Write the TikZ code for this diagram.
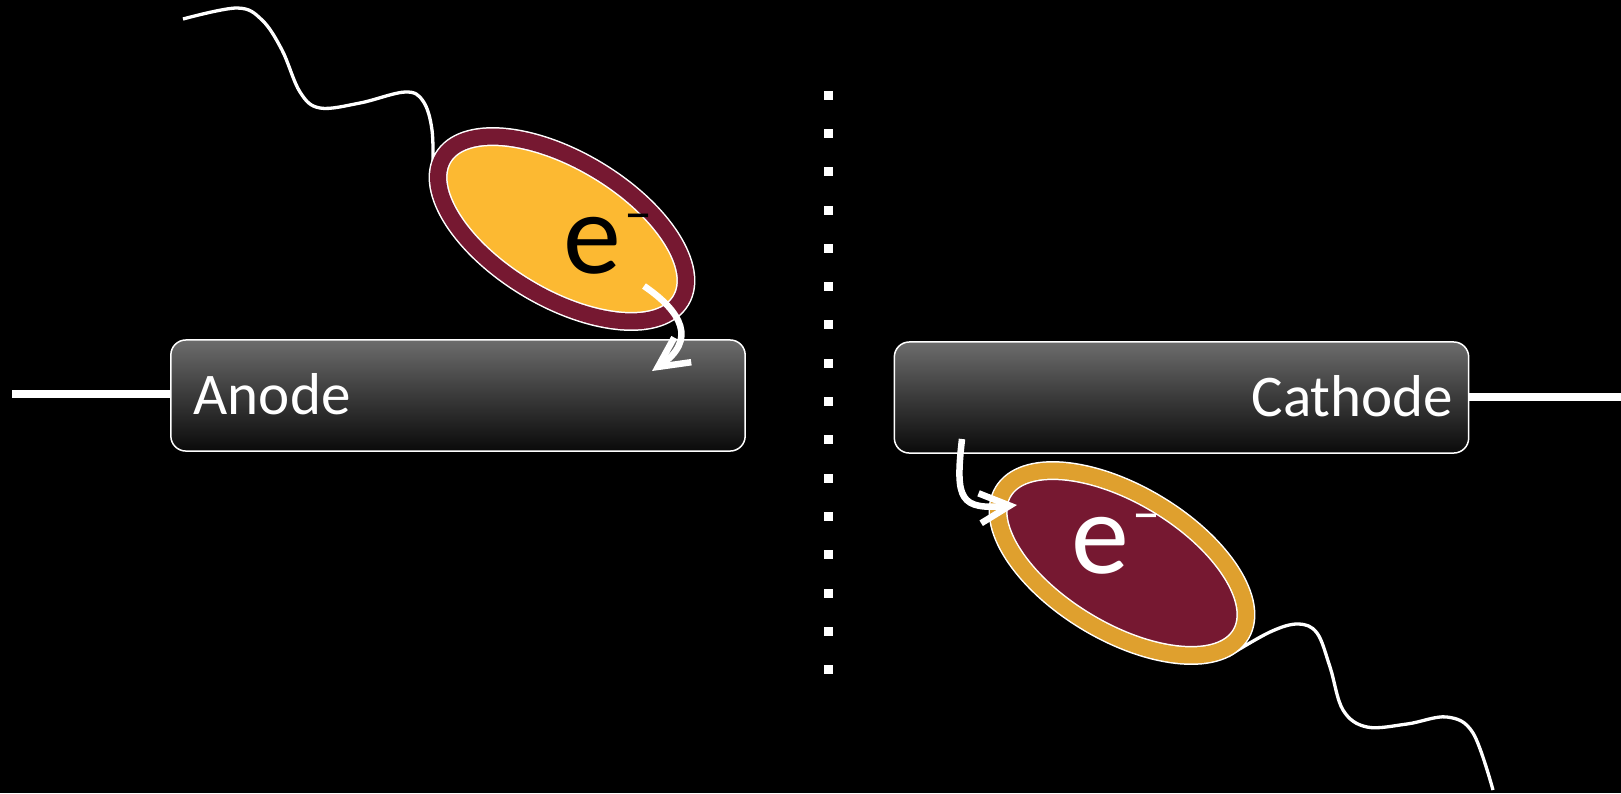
\documentclass[tikz,border=0pt]{standalone}
\usepackage{fontspec}
\setmainfont{Carlito}
\usepackage{tikz}
\usetikzlibrary{shapes.geometric,arrows.meta,positioning}

\definecolor{eYellow}{RGB}{252,185,50}
\definecolor{eMaroon}{RGB}{118,24,49}
\definecolor{eGold}{RGB}{223,160,46}
\definecolor{boxTop}{RGB}{108,108,108}
\definecolor{boxMid}{RGB}{58,58,58}
\definecolor{boxBot}{RGB}{10,10,10}

\tikzset{
	electrode/.style={draw=white, line width=0.015cm, rounded corners=0.15cm,
		top color=boxTop, bottom color=boxBot, middle color=boxMid,
		minimum width=5.74cm, minimum height=1.11cm, inner sep=0pt},
	particle/.style={ellipse, minimum width=2.77cm, minimum height=1.37cm, inner sep=0pt,
		rotate=-31, draw=white, line width=0.015cm, double distance=0.16cm},
	lead/.style={white, line width=0.08cm},
	tail/.style={white, line width=0.033cm},
	flow/.style={white, line width=0.065cm, -{Straight Barb[length=0.3cm,width=0.3cm]}},
	charge/.style={anchor=base west, inner sep=0pt, font=\fontsize{33}{33}\selectfont},
	tag/.style={white, inner sep=0pt, font=\fontsize{16.8}{16.8}\selectfont},
}
\newcommand{\minus}{\kern0.03cm\raisebox{0.41cm}{\fontsize{16}{16}\selectfont –}}

\begin{document}
\begin{tikzpicture}[x=0.01cm, y=-0.01cm]
	\useasboundingbox (0,0) rectangle (1621,793);
	\fill[black] (0,0) rectangle (1621,793);

	% electrodes and their leads
	\node[electrode] (anode) at (458,395.5) {};
	\node[electrode] (cathode) at (1181.5,397.5) {};
	\coordinate (leadA) at (12,394);
	\coordinate (leadC) at (1621,397);
	\draw[lead] (leadA) -- (leadA -| anode.west);
	\draw[lead] (leadC -| cathode.east) -- (leadC);
	\node[tag, anchor=base west] (anodeTxt) at (193,414) {Anode};
	\node[tag, anchor=base east] (cathodeTxt) at (1454,416) {Cathode};

	% dotted separator
	\foreach \k in {0,...,15}
		\fill[white] (823.5,90.5+38.33*\k) rectangle ++(9,9);

	% tails
	\draw[tail] plot[smooth, tension=0.6] coordinates {(183,19) (237,8) (262,20) (282,50) (300,92) (320,108) (360,103) (405,92) (423,101) (432,130) (433,175)};
	\draw[tail] plot[smooth, tension=0.6] coordinates {(1228,656) (1270,632) (1298,624) (1317,633) (1330,667) (1343,710) (1367,727) (1407,724) (1447,717) (1473,733) (1493,790)};

	% electrons
	\node[particle, fill=eYellow, double=eMaroon] (eA) at (562,229) {};
	\node[particle, fill=eMaroon, double=eGold] (eC) at (1122,563) {};
	\node[charge] (chargeA) at (563,273) {e\minus};
	\node[charge, white] (chargeC) at (1071,573) {e\minus};

	% transfer arrows
	\coordinate (dropA) at (644,286);
	\coordinate (hitA) at (652,371);
	\draw[flow] (dropA) .. controls (682,312) and (697,340) .. (hitA);
	\coordinate (dropC) at (962,439);
	\coordinate (hitC) at (1017,505);
	\draw[flow] (dropC) .. controls (955,500) and (960,510) .. (hitC);
\end{tikzpicture}
\end{document}
